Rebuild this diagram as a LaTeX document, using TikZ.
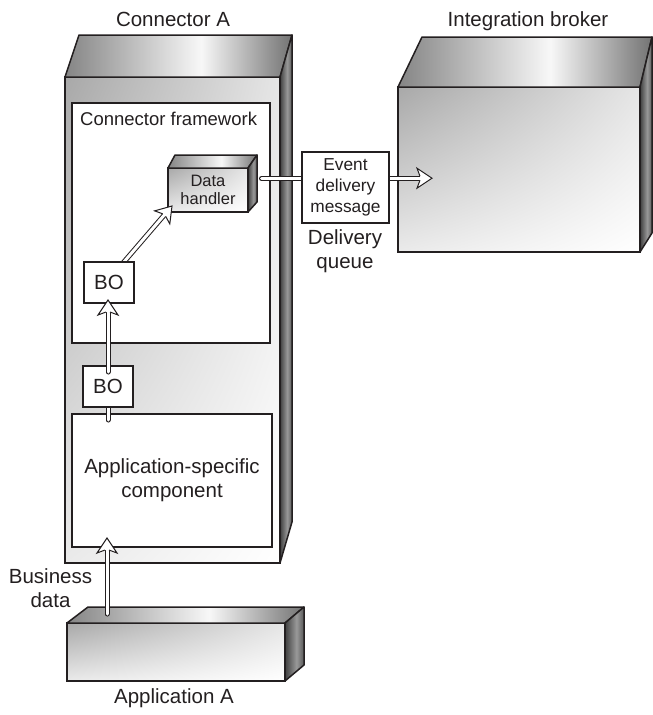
\documentclass[tikz,border=0pt]{standalone}
\usepackage{fontspec}
\setmainfont{Liberation Sans}
\usetikzlibrary{calc,shadings}
\definecolor{ink}{HTML}{231F20}
\pgfdeclarehorizontalshading{topshade}{100bp}{color(0bp)=(black!48); color(25bp)=(black!48); color(55bp)=(black!3); color(75bp)=(black!55); color(100bp)=(black!55)}
\pgfdeclarehorizontalshading{sideshade}{100bp}{color(0bp)=(black!75); color(25bp)=(black!75); color(55bp)=(black!40); color(75bp)=(black!65); color(100bp)=(black!65)}
\newcommand\lblfont{\fontsize{20.5}{24}\selectfont}
\newcommand\fwfont{\fontsize{18.5}{22}\selectfont}
\newcommand\dhfont{\fontsize{16.5}{18.5}\selectfont}
\newcommand\evfont{\fontsize{17.3}{21}\selectfont}
\tikzset{
  face/.style={draw=ink, line width=1.5pt, line join=round},
  box/.style={draw=ink, line width=1.5pt, fill=white, inner sep=0pt, outer sep=0pt},
  front/.style={draw=ink, line width=1.5pt, inner sep=0pt, outer sep=0pt, shade,
     upper left=black!34, upper right=black!10, lower left=black!8, lower right=white},
  shaftline/.style={draw=ink, double=white, double distance=3pt, line width=1pt, line cap=round},
  headline/.style={draw=ink, line width=1pt, line join=miter},
  lbl/.style={font=\lblfont, inner sep=0pt, text=ink}
}
\newcommand\harrow[2]{%
  \draw[shaftline] (#1) -- ($(#2)!12pt!(#1)$);
  \fill[white] (#2) -- ($(#2)!18.03pt!33.69:(#1)$) -- ($(#2)!12.17pt!9.46:(#1)$) -- ($(#2)!12.17pt!-9.46:(#1)$) -- ($(#2)!18.03pt!-33.69:(#1)$) -- cycle;
  \draw[headline] ($(#2)!12.17pt!9.46:(#1)$) -- ($(#2)!18.03pt!33.69:(#1)$) -- (#2) -- ($(#2)!18.03pt!-33.69:(#1)$) -- ($(#2)!12.17pt!-9.46:(#1)$);
}
\begin{document}
\begin{tikzpicture}[x=1pt, y=-1pt]
\useasboundingbox (0,0) rectangle (653,715);

% Integration broker
\node[front, minimum width=242pt, minimum height=165pt] (IB) at (519,169.5) {};
\shadedraw[face, shading=topshade] (IB.north west) -- ++(24,-50) -- ($(IB.north east)+(12,-50)$) -- (IB.north east) -- cycle;
\shadedraw[face, shading=sideshade] (IB.north east) -- ++(12,-50) -- ++(0,196) -- (IB.south east) -- cycle;
\node[lbl, anchor=base] (tIB) at (528,26) {Integration broker};

% Connector A
\node[front, minimum width=215pt, minimum height=486pt] (CA) at (172.5,320) {};
\shadedraw[face, shading=topshade] (CA.north west) -- ++(14,-42) -- ($(CA.north east)+(12,-42)$) -- (CA.north east) -- cycle;
\shadedraw[face, shading=sideshade] (CA.north east) -- ++(12,-42) -- ++(0,487) -- (CA.south east) -- cycle;
\node[lbl, anchor=base] (tCA) at (173,26) {Connector A};

% Application A
\node[front, minimum width=218pt, minimum height=58pt] (AA) at (176,652) {};
\shadedraw[face, shading=topshade] (AA.north west) -- ++(21,-16) -- ($(AA.north east)+(19,-16)$) -- (AA.north east) -- cycle;
\shadedraw[face, shading=sideshade] (AA.north east) -- ++(19,-16) -- ++(0,58) -- (AA.south east) -- cycle;
\node[lbl, anchor=base] (tAA) at (174,703) {Application A};

% Connector framework and application-specific component
\node[box, minimum width=198pt, minimum height=240pt] (FW) at (171,223) {};
\node[font=\fwfont, inner sep=0pt, anchor=base west, text=ink] (tFW) at ($(FW.north west)+(8,22)$) {Connector framework};
\node[box, minimum width=200pt, minimum height=133pt, align=center, font=\lblfont, text=ink] (AS) at (172,480.5) {Application-specific\\component};

% stub from application-specific component to BO
\draw[shaftline] ($(AS.north)+(-64,6)$) -- ($(AS.north)+(-64,-7)$);
\node[box, minimum width=50pt, minimum height=41pt, font=\lblfont, text=ink] (BO2) at (108,386.5) {BO};

% Data handler
\node[front, minimum width=80pt, minimum height=44pt, align=center, font=\dhfont, text=ink] (DH) at (208,190) {Data\\handler};
\shadedraw[face, shading=topshade] (DH.north west) -- ++(7,-13) -- ($(DH.north east)+(9,-13)$) -- (DH.north east) -- cycle;
\shadedraw[face, shading=sideshade] (DH.north east) -- ++(9,-13) -- ++(0,47) -- (DH.south east) -- cycle;

% BO -> Data handler
\coordinate (b1s) at (117,270);
\coordinate (dht) at ($(DH.south west)+(4,-6)$);
\harrow{b1s}{dht}
\node[box, minimum width=50pt, minimum height=41pt, font=\lblfont, text=ink] (BO1) at (109,282.5) {BO};

% BO -> BO
\coordinate (b2s) at ($(BO2.north)+(0,6)$);
\coordinate (b1t) at ($(BO2.north |- BO1.south)+(0,-3)$);
\harrow{b2s}{b1t}

% Business data
\coordinate (bds) at ($(AA.north west)+(40,-9)$);
\coordinate (bdt) at ($(AS.south west)+(35,-9)$);
\harrow{bds}{bdt}
\node[lbl, align=center] (tBD) at (50.5,588) {Business\\data};

% Data handler -> event box, event box -> broker
\coordinate (dhs) at ($(DH.east)+(13.5,-11.5)$);
\draw[shaftline] (dhs) -- ($(dhs)+(45,0)$);
\coordinate (evs) at (380,178.2);
\coordinate (ibt) at (432,178.2);
\harrow{evs}{ibt}
\node[box, minimum width=87pt, minimum height=71pt, align=center, font=\evfont, text=ink] (EV) at (345.5,187.5) {Event\\delivery\\message};
\node[lbl, align=center] (tDQ) at (345,251) {Delivery\\queue};
\end{tikzpicture}
\end{document}
